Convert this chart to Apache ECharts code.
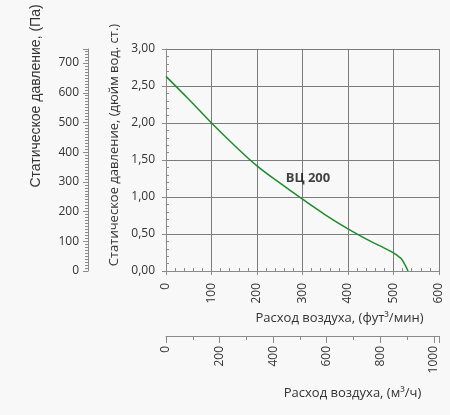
<!DOCTYPE html>
<html>
<head>
<meta charset="utf-8">
<script src="https://cdn.jsdelivr.net/npm/echarts@6/dist/echarts.min.js"></script>
<style>
    html, body { margin: 0; padding: 0; background: #f8f8f8; }
    #chart { width: 450px; height: 415px; }
</style>
</head>
<body>
<div id="chart"></div>
<script>
// расход, фут³/мин
var flowCfm = [0, 50, 100, 150, 200, 250, 300, 350, 400, 450, 480, 500, 510, 518, 525, 532];
// статическое давление, дюйм вод. ст.
var pressureIn = [2.63, 2.32, 2.00, 1.70, 1.42, 1.19, 0.97, 0.76, 0.57, 0.40, 0.31, 0.245, 0.20, 0.16, 0.085, 0.00];
var curveName = 'ВЦ 200';
var labelPos = [312, 1.25];

var CFM_MAX = 600;
var IN_MAX = 3;
var PA_MAX = IN_MAX * 249.09;      // та же шкала в Па
var M3H_MAX = CFM_MAX * 1.699;     // та же шкала в м³/ч

var textColor = '#333333';
var lineColor = '#8a8a8a';
var fontFamily = '"Open Sans", "Noto Sans", sans-serif';

var curveData = flowCfm.map(function (x, i) { return [x, pressureIn[i]]; });

var myChart = echarts.init(document.getElementById('chart'));
var option = {
    backgroundColor: '#f8f8f8',
    textStyle: { fontFamily: fontFamily },
    animation: false,
    grid: { left: 166, right: 11, top: 49, bottom: 144 },
    xAxis: [
        {
            type: 'value',
            min: 0,
            max: CFM_MAX,
            interval: 100,
            position: 'bottom',
            name: 'Расход воздуха, (фут³/мин)',
            nameLocation: 'middle',
            nameGap: 41,
            nameTextStyle: { color: textColor, fontSize: 13, padding: [0, 0, 0, 74] },
            axisLine: { show: true, onZero: false, lineStyle: { color: lineColor } },
            axisTick: { show: true, length: 4, lineStyle: { color: lineColor } },
            minorTick: { show: true, splitNumber: 5, length: -3, lineStyle: { color: lineColor } },
            splitLine: { show: true, lineStyle: { color: '#7c7c7c', width: 1 } },
            axisLabel: { rotate: 90, margin: 12, color: textColor, fontSize: 12 }
        },
        {
            type: 'value',
            min: 0,
            max: M3H_MAX,
            interval: 200,
            position: 'bottom',
            offset: 65,
            name: 'Расход воздуха, (м³/ч)',
            nameLocation: 'middle',
            nameGap: 51,
            nameTextStyle: { color: textColor, fontSize: 13, padding: [0, 0, 0, 100] },
            axisLine: { show: true, onZero: false, lineStyle: { color: lineColor } },
            axisTick: { show: true, length: 7, lineStyle: { color: lineColor } },
            minorTick: { show: true, splitNumber: 2, length: 4, lineStyle: { color: lineColor } },
            splitLine: { show: false },
            axisLabel: { rotate: 90, margin: 10, color: textColor, fontSize: 12, showMaxLabel: false,
                formatter: function (v) { return v % 200 === 0 ? String(v) : ''; } }
        }
    ],
    yAxis: [
        {
            type: 'value',
            min: 0,
            max: IN_MAX,
            interval: 0.5,
            position: 'left',
            name: 'Статическое давление, (дюйм вод. ст.)',
            nameLocation: 'middle',
            nameGap: 42,
            nameTextStyle: { color: textColor, fontSize: 13, padding: [0, 0, 0, 30] },
            axisLine: { show: true, onZero: false, lineStyle: { color: lineColor } },
            axisTick: { show: true, length: 4, lineStyle: { color: lineColor } },
            minorTick: { show: true, splitNumber: 5, length: -3, lineStyle: { color: lineColor } },
            splitLine: { show: true, lineStyle: { color: '#7c7c7c', width: 1 } },
            axisLabel: {
                margin: 11, color: textColor, fontSize: 12,
                formatter: function (v) { return v.toFixed(2).replace('.', ','); }
            }
        },
        {
            type: 'value',
            min: 0,
            max: PA_MAX,
            interval: 100,
            position: 'left',
            offset: 78,
            name: 'Статическое давление, (Па)',
            nameLocation: 'middle',
            nameGap: 45,
            nameTextStyle: { color: textColor, fontSize: 14, fontFamily: '"Liberation Sans", Arial, sans-serif', padding: [0, 0, 0, 128] },
            axisLine: { show: true, onZero: false, lineStyle: { color: lineColor } },
            axisTick: { show: true, length: 5, lineStyle: { color: lineColor } },
            minorTick: { show: true, splitNumber: 10, length: 3, lineStyle: { color: lineColor } },
            splitLine: { show: false },
            axisLabel: { margin: 9, color: textColor, fontSize: 12, showMaxLabel: false,
                formatter: function (v) { return v % 100 === 0 ? String(v) : ''; } }
        }
    ],
    series: [
        {
            name: curveName,
            type: 'line',
            xAxisIndex: 0,
            yAxisIndex: 0,
            smooth: 0.4,
            showSymbol: false,
            lineStyle: { color: '#1e8c2e', width: 1.5 },
            data: curveData
        },
        {
            type: 'scatter',
            xAxisIndex: 0,
            yAxisIndex: 0,
            symbolSize: 0,
            silent: true,
            label: {
                show: true,
                position: 'inside',
                formatter: curveName,
                color: '#111111',
                fontWeight: 'bold',
                fontSize: 13
            },
            data: [labelPos]
        }
    ]
};
myChart.setOption(option);
</script>
</body>
</html>
